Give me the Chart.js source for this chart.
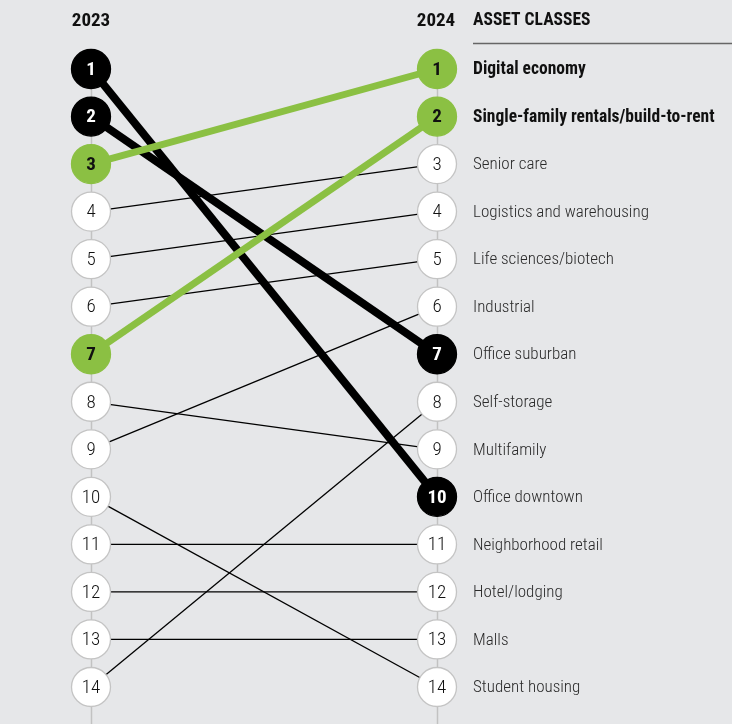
<!DOCTYPE html>
<html>
<head>
<meta charset="utf-8">
<script src="https://cdn.jsdelivr.net/npm/chart.js@4"></script>
<style>
  html, body { margin: 0; padding: 0; background: #e6e7e9; }
  #wrap { width: 732px; height: 724px; position: relative; }
</style>
</head>
<body>
<div id="wrap"><canvas id="myChart" width="732" height="724"></canvas></div>
<script>
// asset classes in 2024 rank order
const assetClasses = [
  'Digital economy',
  'Single-family rentals/build-to-rent',
  'Senior care',
  'Logistics and warehousing',
  'Life sciences/biotech',
  'Industrial',
  'Office suburban',
  'Self-storage',
  'Multifamily',
  'Office downtown',
  'Neighborhood retail',
  'Hotel/lodging',
  'Malls',
  'Student housing'
];
const rank2024 = [1, 2, 3, 4, 5, 6, 7, 8, 9, 10, 11, 12, 13, 14];
const rank2023 = [3, 7, 4, 5, 6, 9, 2, 14, 8, 1, 11, 12, 13, 10];
// 'up' = big riser (green), 'down' = big faller (black)
const movement = ['up', 'up', '', '', '', '', 'down', '', '', 'down', '', '', '', ''];
const years = ['2023', '2024'];

const GREEN = '#8bc043';
const FONT = '"Roboto Condensed","Liberation Sans Narrow","DejaVu Sans Condensed",Roboto,sans-serif';

function fillFor(kind) {
  if (kind === 'up') return GREEN;
  if (kind === 'down') return '#000000';
  return '#ffffff';
}

const lineSets = assetClasses.map((name, i) => {
  const kind = movement[i];
  return {
    label: name,
    data: [{x: 0, y: rank2023[i]}, {x: 1, y: rank2024[i]}],
    borderColor: kind === 'up' ? GREEN : '#000',
    borderWidth: kind === 'up' ? 7 : (kind === 'down' ? 8 : 1.3),
    pointRadius: 0,
    pointHoverRadius: 0,
    order: kind === 'up' ? 1 : (kind === 'down' ? 2 : 3),
    clip: false
  };
});

// circles for both columns: the 2023 column is ranked by rank2023
const dotPoints = [];
const dotKinds = [];
for (let i = 0; i < assetClasses.length; i++) {
  dotPoints.push({x: 0, y: rank2023[i]});
  dotKinds.push(movement[i]);
  dotPoints.push({x: 1, y: rank2024[i]});
  dotKinds.push(movement[i]);
}

const dotSet = {
  label: 'ranks',
  data: dotPoints,
  showLine: false,
  pointRadius: 19.5,
  pointHoverRadius: 19.5,
  pointBackgroundColor: ctx => fillFor(dotKinds[ctx.dataIndex]),
  pointBorderColor: ctx => dotKinds[ctx.dataIndex] ? fillFor(dotKinds[ctx.dataIndex]) : '#c4c4c4',
  pointBorderWidth: 1.3,
  order: 0,
  clip: false
};

const decor = {
  id: 'decor',
  beforeDatasetsDraw(chart) {
    const c = chart.ctx;
    const xs = chart.scales.x, ys = chart.scales.y;
    c.save();
    c.strokeStyle = '#c2c2c2';
    c.lineWidth = 1.5;
    [0, 1].forEach(v => {
      const px = Math.round(xs.getPixelForValue(v)) + 0.5;
      c.beginPath();
      c.moveTo(px, ys.getPixelForValue(1));
      c.lineTo(px, chart.height);
      c.stroke();
    });
    c.restore();
  },
  afterDatasetsDraw(chart) {
    const c = chart.ctx;
    const xs = chart.scales.x, ys = chart.scales.y;
    const meta = chart.getDatasetMeta(chart.data.datasets.length - 1);
    c.save();
    c.textAlign = 'center';
    c.textBaseline = 'middle';
    meta.data.forEach((pt, j) => {
      const kind = dotKinds[j];
      const v = dotPoints[j].y;
      c.font = (kind ? 'bold ' : '300 ') + '19px ' + FONT;
      c.fillStyle = kind === 'down' ? '#fff' : '#111';
      c.fillText(String(v), pt.x, pt.y + 1);
    });

    // headers
    c.fillStyle = '#111';
    c.font = 'bold 19px ' + FONT;
    c.fillText(years[0], xs.getPixelForValue(0), 21);
    c.fillText(years[1], xs.getPixelForValue(1) - 1, 21);

    const labelX = xs.getPixelForValue(1) + 36;
    c.textAlign = 'left';
    c.font = 'bold 17.5px ' + FONT;
    c.fillText('ASSET CLASSES', labelX, 21);
    c.strokeStyle = '#666';
    c.lineWidth = 1.5;
    c.beginPath();
    c.moveTo(labelX, 43.5);
    c.lineTo(chart.width, 43.5);
    c.stroke();

    assetClasses.forEach((name, i) => {
      const up = movement[i] === 'up';
      c.font = (up ? 'bold 17.5px ' : '300 17px ') + FONT;
      c.fillStyle = up ? '#111' : '#2a2a2a';
      c.fillText(name, labelX, ys.getPixelForValue(rank2024[i]) + 1);
    });
    c.restore();
  }
};

new Chart(document.getElementById('myChart').getContext('2d'), {
  type: 'line',
  data: { datasets: [...lineSets, dotSet] },
  options: {
    responsive: false,
    animation: false,
    events: [],
    layout: { padding: { left: 91, right: 295, top: 69, bottom: 37 } },
    scales: {
      x: { type: 'linear', min: 0, max: 1, display: false },
      y: { type: 'linear', min: 1, max: 14, reverse: true, display: false }
    },
    plugins: { legend: { display: false }, tooltip: { enabled: false } }
  },
  plugins: [decor]
});
</script>
</body>
</html>
